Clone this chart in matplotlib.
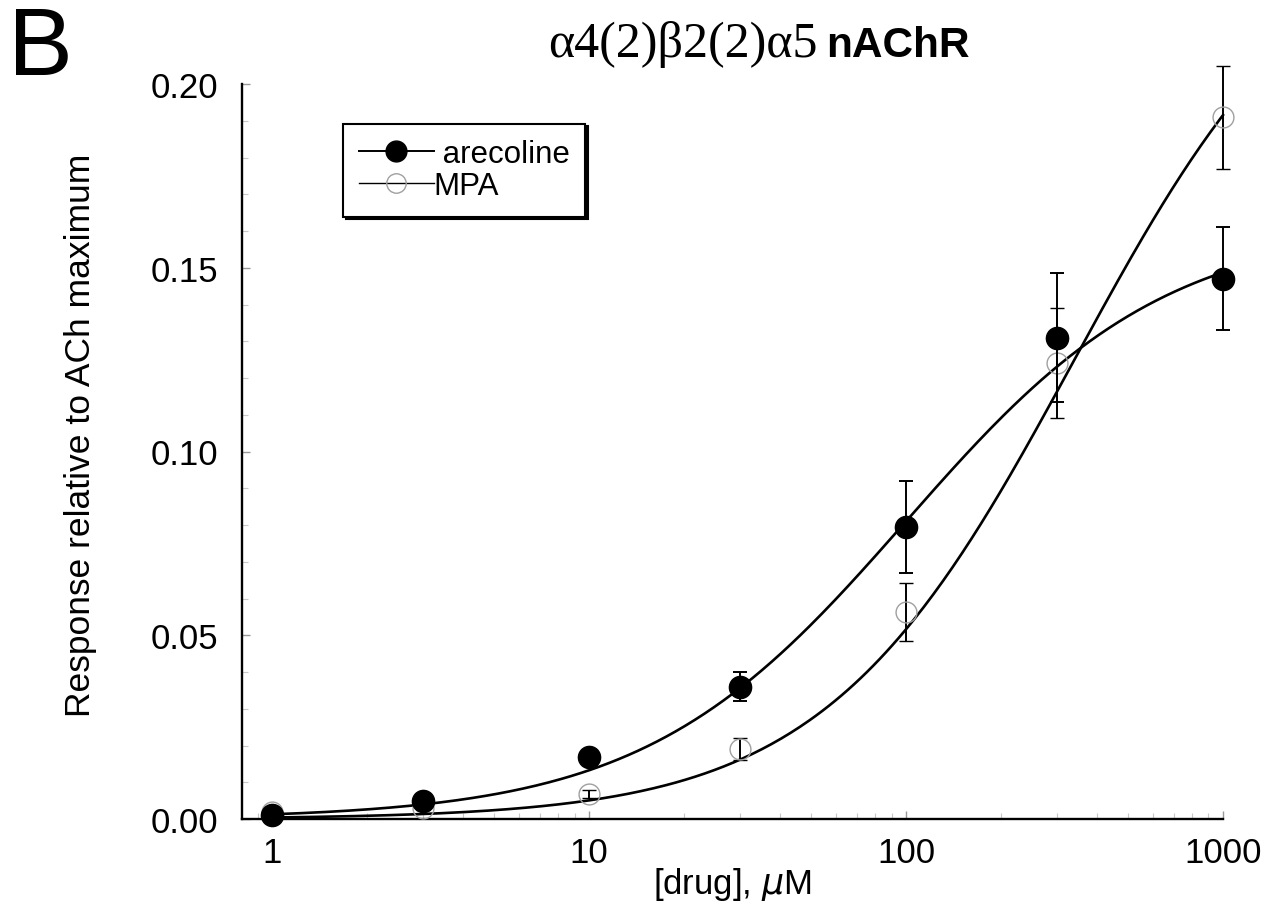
import matplotlib
matplotlib.use('Agg')
import matplotlib.pyplot as plt
from matplotlib.lines import Line2D
from matplotlib.ticker import FixedLocator, LogLocator, NullFormatter
import numpy as np

plt.rcParams['font.family'] = ['Liberation Sans', 'DejaVu Sans']

# concentrations (uM)
conc = [1, 3, 10, 30, 100, 300, 1000]

# arecoline responses (relative to ACh max) and SEM
are_resp = [0.001, 0.005, 0.017, 0.036, 0.0795, 0.131, 0.147]
are_err = [0.0005, 0.0008, 0.001, 0.004, 0.0125, 0.0175, 0.014]

# MPA responses and SEM
mpa_resp = [0.002, 0.003, 0.0068, 0.019, 0.0563, 0.124, 0.191]
mpa_err = [0.0005, 0.0005, 0.001, 0.003, 0.008, 0.015, 0.014]

# Hill fit parameters (Imax, EC50, n)
are_fit = (0.162, 100.0, 1.05)
mpa_fit = (0.250, 340.0, 1.1)


def hill(x, imax, ec50, n):
    return imax * x**n / (x**n + ec50**n)


fig = plt.figure(figsize=(12.7, 9.2), dpi=100)
ax = fig.add_axes([242/1270, 1-820/920, 981/1270, 735/920])

xs = np.logspace(0, 3, 300)
ax.plot(xs, hill(xs, *are_fit), color='black', lw=1.9, clip_on=False, zorder=2)
ax.plot(xs, hill(xs, *mpa_fit), color='black', lw=1.9, clip_on=False, zorder=2)

ax.errorbar(conc, mpa_resp, yerr=mpa_err, fmt='o', ms=15, mfc='none',
            mec='#a0a0a0', mew=1.0, ecolor='black', elinewidth=1.4,
            capsize=5, capthick=1.4, clip_on=False, zorder=3)
ax.errorbar(conc, are_resp, yerr=are_err, fmt='o', ms=16, mfc='black',
            mec='black', ecolor='black', elinewidth=1.4,
            capsize=5, capthick=1.4, clip_on=False, zorder=4)

ax.set_xscale('log')
ax.set_xlim(0.804, 1000)
ax.set_ylim(0, 0.20)

for s in ['top', 'right']:
    ax.spines[s].set_visible(False)
for s in ['left', 'bottom']:
    ax.spines[s].set_linewidth(1.7)

ax.xaxis.set_major_locator(FixedLocator([1, 10, 100, 1000]))
ax.set_xticklabels(['1', '10', '100', '1000'])
ax.xaxis.set_minor_locator(LogLocator(base=10, subs=np.arange(2, 10)))
ax.xaxis.set_minor_formatter(NullFormatter())
ax.set_yticks([0, 0.05, 0.10, 0.15, 0.20])
ax.set_yticklabels(['0.00', '0.05', '0.10', '0.15', '0.20'])
ax.yaxis.set_minor_locator(FixedLocator(np.arange(0, 0.201, 0.01)))

ax.tick_params(axis='both', which='major', direction='in', length=6,
               width=1.0, color='#999999', labelsize=25)
ax.tick_params(axis='both', which='minor', direction='in', length=4,
               width=0.8, color='#c8c8c8')
ax.tick_params(axis='y', which='major', pad=17)
ax.tick_params(axis='x', which='major', pad=12)

ax.set_ylabel('Response relative to ACh maximum', fontsize=25.5)
ax.yaxis.set_label_coords(-0.148, 0.524)
ax.set_xlabel('[drug], $\\mu$M', fontsize=25)
ax.xaxis.set_label_coords(0.5, -0.063)

handles = [
    Line2D([], [], color='black', lw=1.4, marker='o', ms=15,
           mfc='black', mec='black'),
    Line2D([], [], color='black', lw=1.0, marker='o', ms=14,
           mfc='none', mec='#a0a0a0', mew=1.0),
]
leg = ax.legend(handles, [' arecoline', 'MPA'], loc='upper left',
                bbox_to_anchor=(0.103, 0.946), borderaxespad=0,
                fontsize=22.5, frameon=True, fancybox=False,
                shadow={'color': 'black', 'alpha': 1.0},
                edgecolor='black', handlelength=2.4, handletextpad=0.0,
                labelspacing=0.05, borderpad=0.5)
leg.get_frame().set_linewidth(1.5)
leg.get_frame().set_alpha(1.0)

fig.text(8/1270, 1-75/920, 'B', fontsize=70, va='baseline', ha='left')
fig.text(818/1270, 1-57/920, '\u03b14(2)\u03b22(2)\u03b15', fontsize=36,
         family='Liberation Serif', va='baseline', ha='right')
fig.text(826/1270, 1-57/920, 'nAChR', fontsize=30.5, fontweight='bold',
         va='baseline', ha='left')

fig.savefig('out.png', dpi=100)
